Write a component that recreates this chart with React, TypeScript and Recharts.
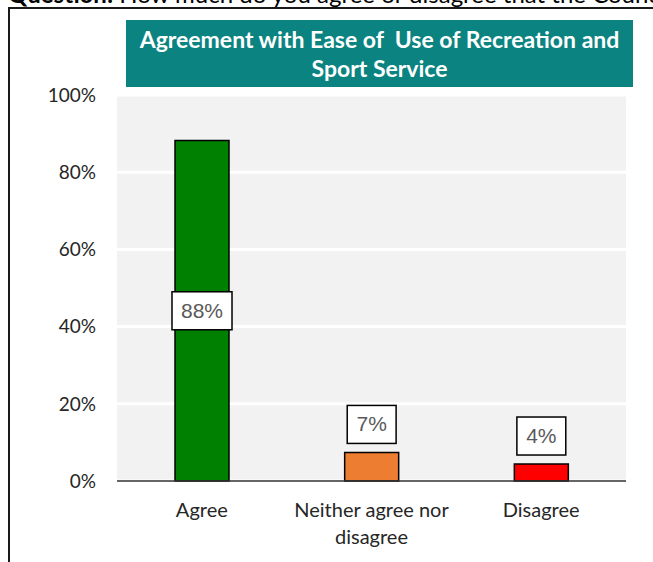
import React from "react";
import { BarChart, Bar, XAxis, YAxis, CartesianGrid, Cell, LabelList } from "recharts";

const categories = ["Agree", "Neither agree nor\ndisagree", "Disagree"];
const values = [88.2, 7.4, 4.4];
const valueLabels = ["88%", "7%", "4%"];
const barColors = ["#008000", "#ED7D31", "#FF0000"];
const yTicks = [0, 20, 40, 60, 80, 100];

const data = categories.map((c, i) => ({ name: c, value: values[i], label: valueLabels[i] }));

const FONT = "Lato, 'Open Sans', sans-serif";

const XTick = (props: any) => {
  const { x, y, payload } = props;
  const lines = String(payload.value).split("\n");
  return (
    <g>
      {lines.map((l: string, i: number) => (
        <text key={i} x={x} y={y + 36 + i * 27} textAnchor="middle" fontSize={20} fontFamily={FONT} fill="#262626">
          {l}
        </text>
      ))}
    </g>
  );
};

const charW = (s: string) => {
  let w = 0;
  for (const ch of s) w += ch === "%" ? 0.889 : 0.556;
  return w * 20;
};

const DataLabel = (props: any) => {
  const { x, y, width, height, value } = props;
  const w = charW(String(value)) + 20;
  const h = 38;
  const cx = x + width / 2;
  let top: number;
  if (height > 60) {
    top = y + height / 2 - h / 2;
  } else {
    top = y - 9 - h;
  }
  return (
    <g>
      <rect x={cx - w / 2} y={top} width={w} height={h} fill="#fff" stroke="#000" strokeWidth={1.5} />
      <text x={cx} y={top + h / 2 + 7} textAnchor="middle" fontSize={21} fontFamily="'Liberation Sans', Arial, sans-serif" fill="#595959">
        {value}
      </text>
    </g>
  );
};

export default function App() {
  return (
    <div style={{ position: "fixed", left: 0, top: 0, width: 653, height: 562, overflow: "hidden", background: "#fff" }}>
      <div
        style={{
          position: "absolute",
          left: 8,
          top: -18,
          whiteSpace: "nowrap",
          fontFamily: FONT,
          fontSize: 24,
          lineHeight: "24px",
          color: "#000",
        }}
      >
        <b>Question:</b> How much do you agree or disagree that the Council's recreation and sport services are easy to use?
      </div>
      <div
        style={{
          position: "absolute",
          left: 8,
          top: 7,
          width: 700,
          height: 600,
          border: "2px solid #1a1a1a",
        }}
      />
      <div style={{ position: "absolute", left: 0, top: 0 }}>
        <BarChart width={653} height={562} data={data} margin={{ top: 95, right: 27, bottom: 0, left: 0 }} barSize={54}>
          <CartesianGrid vertical={false} stroke="#ffffff" strokeWidth={3} fill="#F2F2F2" />
          <YAxis
            type="number"
            domain={[0, 100]}
            ticks={yTicks}
            width={117}
            axisLine={false}
            tickLine={false}
            tickSize={0}
            tickMargin={21}
            tickFormatter={(v: number) => `${v}%`}
            tick={{ fontSize: 19, fontFamily: FONT, fill: "#262626" }}
          />
          <XAxis
            dataKey="name"
            height={81}
            axisLine={{ stroke: "#333", strokeWidth: 1.5 }}
            tickLine={false}
            tickSize={0}
            tickMargin={0}
            tick={<XTick />}
            interval={0}
          />
          <Bar dataKey="value" isAnimationActive={false} stroke="#000" strokeWidth={1.5}>
            {data.map((d, i) => (
              <Cell key={i} fill={barColors[i]} />
            ))}
            <LabelList dataKey="label" content={<DataLabel />} />
          </Bar>
        </BarChart>
      </div>
      <div
        style={{
          position: "absolute",
          left: 126,
          top: 20,
          width: 507,
          height: 67,
          background: "#0B8380",
          color: "#fff",
          fontFamily: FONT,
          fontWeight: 700,
          fontSize: 23,
          lineHeight: "29px",
          textAlign: "center",
          display: "flex",
          alignItems: "center",
          justifyContent: "center",
          whiteSpace: "pre",
        }}
      >
        {"Agreement with Ease of  Use of Recreation and\nSport Service"}
      </div>
    </div>
  );
}
